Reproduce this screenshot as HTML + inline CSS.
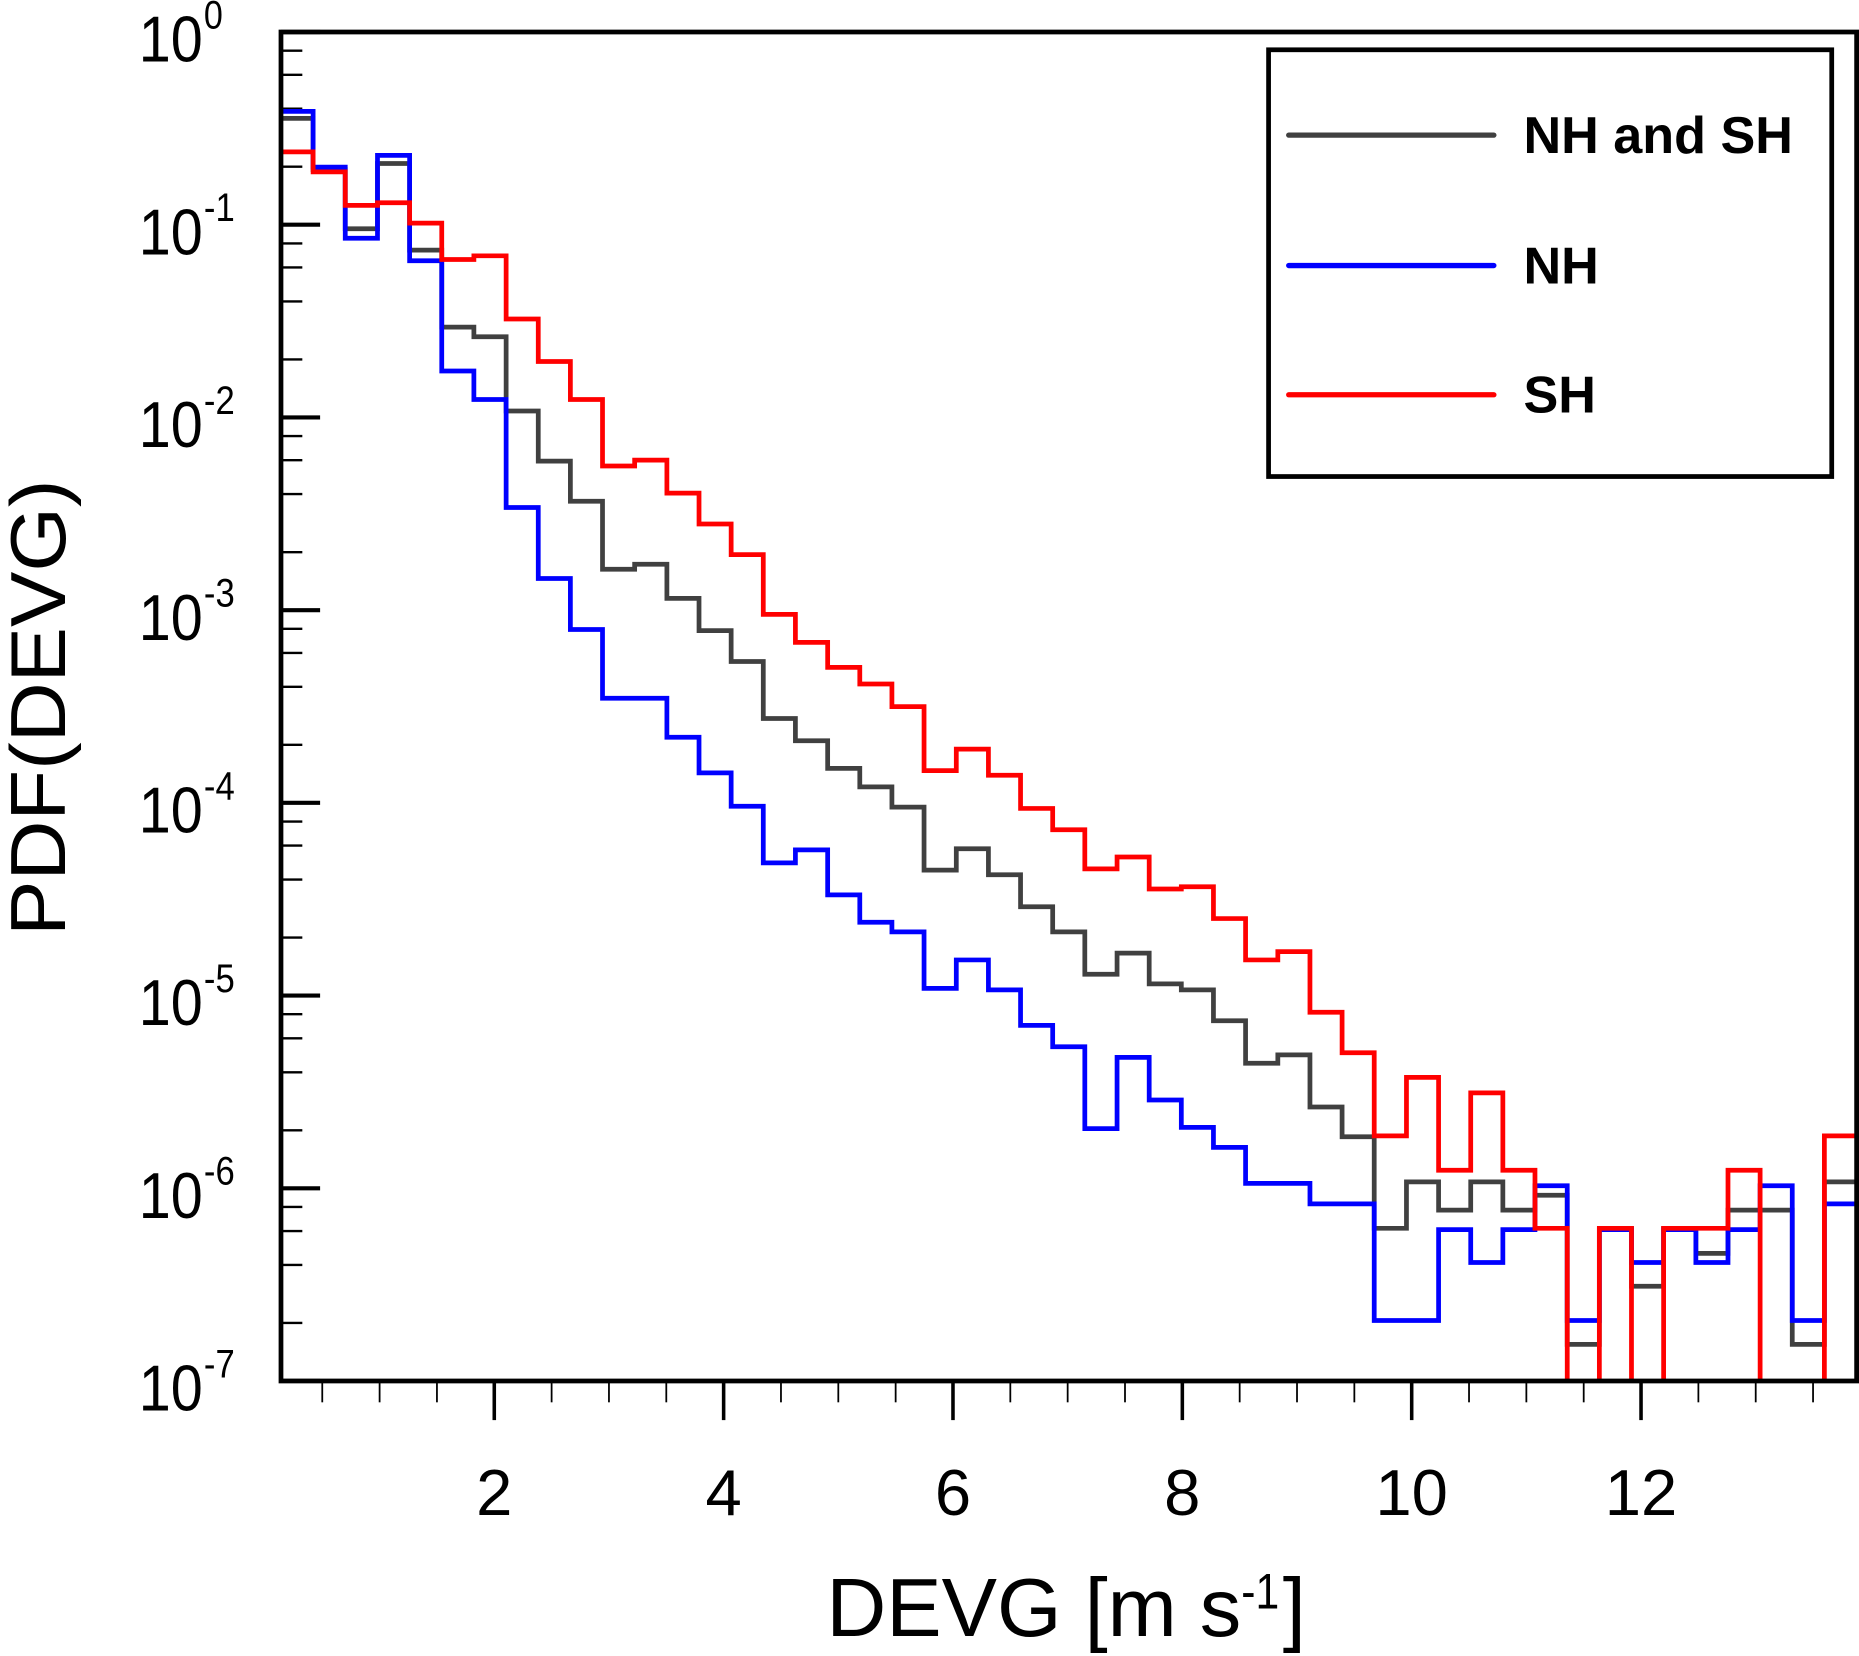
<!DOCTYPE html>
<html><head><meta charset="utf-8"><style>
html,body{margin:0;padding:0;background:#fff;}
svg{display:block;}
text{font-family:"Liberation Sans",sans-serif;fill:#000;}
</style></head><body>
<svg id="chart" width="1859" height="1656" viewBox="0 0 1568 1397" preserveAspectRatio="none" xmlns="http://www.w3.org/2000/svg">
<defs><clipPath id="pc"><rect x="237" y="27" width="1329" height="1138"/></clipPath></defs>
<g id="yticks"></g>
<g id="xticks"></g>
<g id="series" clip-path="url(#pc)"></g>
<rect x="237" y="27" width="1329" height="1138" fill="none" stroke="#000" stroke-width="4"/>
<text transform="translate(55,597) rotate(-90)" text-anchor="middle" font-size="66" textLength="385" lengthAdjust="spacingAndGlyphs">PDF(DEVG)</text>
<text x="697" y="1380" font-size="70" textLength="350" lengthAdjust="spacingAndGlyphs">DEVG [m s</text>
<text x="1047" y="1357" font-size="42" textLength="32" lengthAdjust="spacingAndGlyphs">-1</text>
<text x="1082" y="1380" font-size="70">]</text>
<g>
<rect x="1070" y="42" width="475" height="360" fill="#fff" stroke="#000" stroke-width="4"/>
<line x1="1087" y1="114" x2="1260" y2="114" stroke="#404040" stroke-width="4.5" stroke-linecap="round"/>
<text x="1285" y="129" font-size="44" font-weight="bold">NH and SH</text>
<line x1="1087" y1="224" x2="1260" y2="224" stroke="#0000ff" stroke-width="4.5" stroke-linecap="round"/>
<text x="1285" y="239" font-size="44" font-weight="bold">NH</text>
<line x1="1087" y1="333" x2="1260" y2="333" stroke="#ff0000" stroke-width="4.5" stroke-linecap="round"/>
<text x="1285" y="348" font-size="44" font-weight="bold">SH</text>
</g>
</svg>
<script>
const binStart = 0.14;
const binWidth = 0.2804;
const xTickLabels = [2, 4, 6, 8, 10, 12];
const yDecades = [0, -1, -2, -3, -4, -5, -6, -7];
const pdfAll = [0.356,0.193,0.0953,0.208,0.0738,0.0294,0.0262,0.0108,0.00593,0.00367,0.00163,0.00173,0.00115,0.000783,0.000542,0.000274,0.00021,0.000151,0.000121,9.5e-5,4.48e-5,5.78e-5,4.24e-5,2.89e-5,2.14e-5,1.29e-5,1.66e-5,1.15e-5,1.07e-5,7.4e-6,4.45e-6,4.92e-6,2.64e-6,1.85e-6,6.2e-7,1.08e-6,7.7e-7,1.08e-6,7.7e-7,9.2e-7,1.55e-7,6.2e-7,3.1e-7,6.2e-7,4.6e-7,7.7e-7,7.7e-7,1.55e-7,1.08e-6];
const pdfNH = [0.387,0.199,0.0851,0.229,0.065,0.0174,0.0124,0.00341,0.00146,0.000794,0.000349,0.000349,0.000219,0.000143,9.6e-5,4.88e-5,5.7e-5,3.33e-5,2.4e-5,2.14e-5,1.09e-5,1.53e-5,1.07e-5,7.0e-6,5.43e-6,2.04e-6,4.78e-6,2.87e-6,2.07e-6,1.63e-6,1.06e-6,1.06e-6,8.3e-7,8.3e-7,2.06e-7,2.06e-7,6.1e-7,4.12e-7,6.1e-7,1.03e-6,2.06e-7,6.1e-7,4.12e-7,6.1e-7,4.12e-7,6.1e-7,1.03e-6,2.06e-7,8.3e-7];
const pdfSH = [0.239,0.188,0.126,0.130,0.102,0.066,0.069,0.0324,0.0195,0.0124,0.0056,0.0060,0.00405,0.0028,0.00194,0.00095,0.00068,0.000505,0.000414,0.000316,0.000147,0.00019,0.000139,9.35e-5,7.25e-5,4.54e-5,5.23e-5,3.57e-5,3.67e-5,2.51e-5,1.53e-5,1.69e-5,8.2e-6,5.05e-6,1.87e-6,3.76e-6,1.24e-6,3.13e-6,1.24e-6,6.2e-7,0,6.2e-7,0,6.2e-7,6.2e-7,1.24e-6,0,0,1.87e-6];
const minorMultipliers = [2, 4, 6, 8];

const NS = "http://www.w3.org/2000/svg";
const X0 = 237, X1 = 1566, Y0 = 27, Y1 = 1165;
const xMin = 0.14, xMax = 13.88;
function xs(v){ return X0 + (v - xMin) / (xMax - xMin) * (X1 - X0); }
function ys(v){ if (v <= 0) return Y1 + 5; const l = Math.log10(v); return Y0 + (0 - l) / 7 * (Y1 - Y0); }
function mk(tag, attrs, parent){ const e = document.createElementNS(NS, tag); for (const k in attrs) e.setAttribute(k, attrs[k]); parent.appendChild(e); return e; }

const yg = document.getElementById('yticks');
yDecades.forEach(d => {
  const y = ys(Math.pow(10, d));
  const t = mk('line', {x1: X0, x2: X0 + 33, y1: y, y2: y, stroke: '#000', 'stroke-width': 3.5}, yg);
  
  
  const lab = mk('text', {x: 117, y: y + 25, 'font-size': 55, textLength: 54, lengthAdjust: 'spacingAndGlyphs'}, yg);
  lab.textContent = '10';
  
  
  const sup = mk('text', {x: 172, y: y - 3, 'font-size': 34, textLength: d === 0 ? 16 : 26, lengthAdjust: 'spacingAndGlyphs'}, yg);
  sup.textContent = String(d);
  
  
  if (d > -7) {
    minorMultipliers.forEach(m => {
      const ym = ys(m * Math.pow(10, d - 1));
      const mt = mk('line', {x1: X0, x2: X0 + 18, y1: ym, y2: ym, stroke: '#000', 'stroke-width': 2}, yg);
      
      
    });
  }
});

const xg = document.getElementById('xticks');
for (let v = 0.5; v < xMax; v += 0.5) {
  const major = Math.abs(v - Math.round(v / 2) * 2) < 1e-6;
  const x = xs(v);
  const t = mk('line', {x1: x, x2: x, y1: Y1, y2: major ? Y1 + 33 : Y1 + 18, stroke: '#000', 'stroke-width': major ? 3 : 1.5}, xg);
  
  
}
xTickLabels.forEach(v => {
  const lab = mk('text', {x: xs(v), y: 1278, 'font-size': 55, 'text-anchor': 'middle'}, xg);
  lab.textContent = String(v);
  
  
});

const sg = document.getElementById('series');
function stepPath(vals){
  let d = '';
  vals.forEach((v, i) => {
    const xa = xs(binStart + i * binWidth), xb = xs(binStart + (i + 1) * binWidth), y = ys(v);
    d += (i === 0 ? 'M' : 'L') + xa.toFixed(1) + ',' + y.toFixed(1) + 'L' + xb.toFixed(1) + ',' + y.toFixed(1);
  });
  return d;
}
const pa = mk('path', {d: stepPath(pdfAll), fill: 'none', stroke: '#404040', 'stroke-width': 4}, sg);


const pn = mk('path', {d: stepPath(pdfNH), fill: 'none', stroke: '#0000ff', 'stroke-width': 4}, sg);


const ps = mk('path', {d: stepPath(pdfSH), fill: 'none', stroke: '#ff0000', 'stroke-width': 4}, sg);


</script>
</body></html>
